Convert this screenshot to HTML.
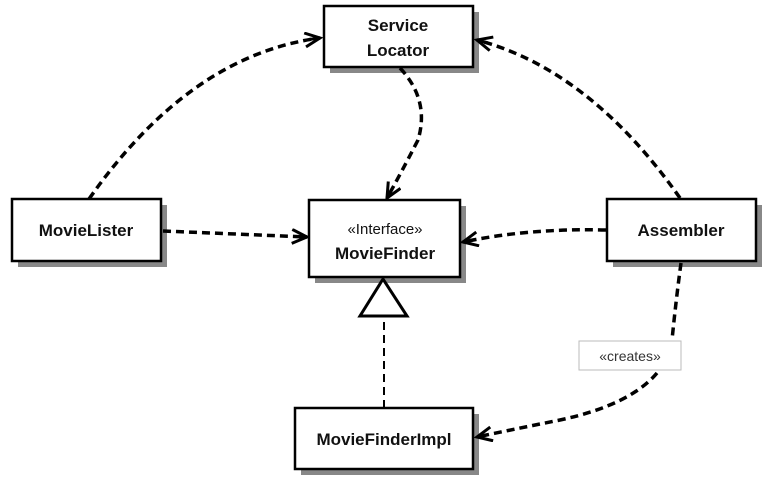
<!DOCTYPE html>
<html><head><meta charset="utf-8"><style>
body{margin:0;background:#fff;width:773px;height:492px;overflow:hidden}
svg{display:block}
text{font-family:"Liberation Sans",sans-serif;font-weight:bold;font-size:17px;fill:#111}
</style></head><body>
<svg width="773" height="492" viewBox="0 0 773 492">
<defs>
<marker id="a" markerWidth="20" markerHeight="20" refX="17" refY="8" orient="auto" markerUnits="userSpaceOnUse">
<polyline points="2,1 17,8 2,15" fill="none" stroke="#000" stroke-width="3"/>
<line x1="6" y1="8" x2="17" y2="8" stroke="#000" stroke-width="3"/>
</marker>
</defs>
<g fill="#888">
<rect x="330" y="12" width="149" height="61"/>
<rect x="315" y="206" width="151" height="77"/>
<rect x="18" y="205" width="149" height="62"/>
<rect x="613" y="205" width="149" height="62"/>
<rect x="301" y="414" width="178" height="61"/>
</g>
<g fill="#fff" stroke="#000" stroke-width="2.5">
<rect x="324" y="6" width="149" height="61"/>
<rect x="309" y="200" width="151" height="77"/>
<rect x="12" y="199" width="149" height="62"/>
<rect x="607" y="199" width="149" height="62"/>
<rect x="295" y="408" width="178" height="61"/>
</g>
<rect x="579" y="341" width="102" height="29" fill="#fff" stroke="#bbb" stroke-width="1"/>
<g fill="none" stroke="#000" stroke-width="3.5" stroke-dasharray="8,5">
<path d="M89,199 Q190,55 320,38" marker-end="url(#a)"/>
<path d="M680,198 Q590,70 477,40" marker-end="url(#a)"/>
<path d="M400,68 Q430,100 418,140 Q400,175 387,198" marker-end="url(#a)"/>
<path d="M163,231 L307,237" marker-end="url(#a)"/>
<path d="M606,230 Q530,228 463,242" marker-end="url(#a)"/>
<path d="M681,263 Q676,300 672,340"/>
<path d="M657,373 Q630,405 560,420 Q510,430 477,437" marker-end="url(#a)"/>
</g>
<line x1="384" y1="322" x2="384" y2="407" stroke="#000" stroke-width="2" stroke-dasharray="8,5"/>
<polygon points="383,279 360,316 407,316" fill="#fff" stroke="#000" stroke-width="3"/>
<text x="398" y="31" text-anchor="middle">Service</text>
<text x="398" y="56" text-anchor="middle">Locator</text>
<text x="385" y="234" text-anchor="middle" style="font-weight:normal;font-size:15px">«Interface»</text>
<text x="385" y="259" text-anchor="middle">MovieFinder</text>
<text x="86" y="236" text-anchor="middle">MovieLister</text>
<text x="681" y="236" text-anchor="middle">Assembler</text>
<text x="384" y="445" text-anchor="middle">MovieFinderImpl</text>
<text x="630" y="361" text-anchor="middle" style="font-weight:normal;font-size:14px;fill:#333">«creates»</text>
</svg>
</body></html>
